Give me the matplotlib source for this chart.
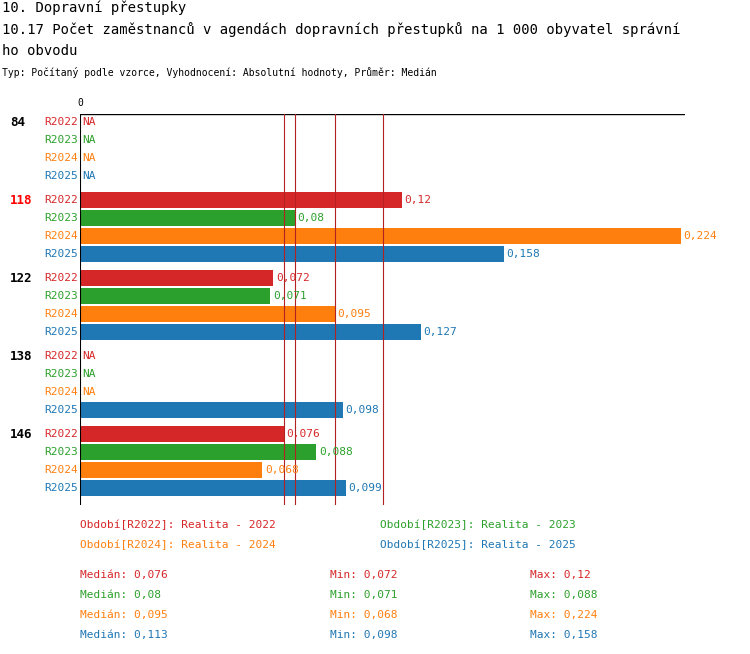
import matplotlib.pyplot as plt

plt.rcParams['font.family'] = ['DejaVu Sans Mono']

groups = ['84', '118', '122', '138', '146']
series = ['R2022', 'R2023', 'R2024', 'R2025']
colors = ['#d62728', '#2ca02c', '#ff7f0e', '#1f77b4']
values = [
    [None, None, None, None],
    [0.12, 0.08, 0.224, 0.158],
    [0.072, 0.071, 0.095, 0.127],
    [None, None, None, 0.098],
    [0.076, 0.088, 0.068, 0.099],
]
medians = [0.076, 0.08, 0.095, 0.113]
mins = [0.072, 0.071, 0.068, 0.098]
maxs = [0.12, 0.088, 0.224, 0.158]
legend = ['Období[R2022]: Realita - 2022', 'Období[R2023]: Realita - 2023',
          'Období[R2024]: Realita - 2024', 'Období[R2025]: Realita - 2025']

W, H = 750, 654
fig = plt.figure(figsize=(7.5, 6.54), dpi=100)

def fx(px):
    return px / W

def fy(py):
    return 1 - py / H

ax = fig.add_axes([fx(80), fy(505), fx(685) - fx(80), fy(114) - fy(505)])
ax.set_xlim(0, 605 / 2683)
ax.set_ylim(505, 114)
ax.axis('off')
ax.axhline(114, color='black', lw=1)
ax.axvline(0, color='black', lw=1.5)
for m in medians:
    ax.axvline(m, color='#b22222', lw=0.8)

fs = 8
for g, name in enumerate(groups):
    for r, s in enumerate(series):
        y = 122 + g * 78 + r * 18
        v = values[g][r]
        fig.text(fx(78), fy(y), s, color=colors[r], fontsize=fs, ha='right', va='center')
        if v is None:
            ax.text(0.001, y, 'NA', color=colors[r], fontsize=fs, va='center')
        else:
            ax.barh(y, v, height=16, color=colors[r])
            ax.text(v + 0.001, y, f'{v:g}'.replace('.', ','), color=colors[r], fontsize=fs, va='center')
    fig.text(fx(10), fy(122 + g * 78), name, fontsize=fs + 1, weight='bold', va='center',
             color='red' if name == '118' else 'black')
fig.text(fx(80), fy(103), '0', fontsize=7, ha='center', va='center')

fig.text(fx(2), fy(8), '10. Dopravní přestupky', fontsize=10, va='center')
fig.text(fx(2), fy(30), '10.17 Počet zaměstnanců v agendách dopravních přestupků na 1 000 obyvatel správní',
         fontsize=10, va='center')
fig.text(fx(2), fy(51), 'ho obvodu', fontsize=10, va='center')
fig.text(fx(2), fy(73), 'Typ: Počítaný podle vzorce, Vyhodnocení: Absolutní hodnoty, Průměr: Medián',
         fontsize=7, va='center')

for i, t in enumerate(legend):
    fig.text(fx(80 + (i % 2) * 300), fy(525 + (i // 2) * 20), t, color=colors[i], fontsize=fs, va='center')

fmt = lambda v: f'{v:g}'.replace('.', ',')
for i in range(4):
    y = 575 + i * 20
    fig.text(fx(80), fy(y), 'Medián: ' + fmt(medians[i]), color=colors[i], fontsize=fs, va='center')
    fig.text(fx(330), fy(y), 'Min: ' + fmt(mins[i]), color=colors[i], fontsize=fs, va='center')
    fig.text(fx(530), fy(y), 'Max: ' + fmt(maxs[i]), color=colors[i], fontsize=fs, va='center')

fig.savefig('out.png', dpi=100)
